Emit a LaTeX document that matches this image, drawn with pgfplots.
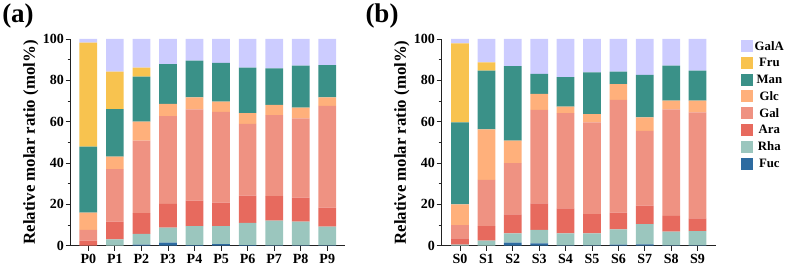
\documentclass[border=0pt]{standalone}
\usepackage{pgfplots}
\pgfplotsset{compat=1.18}
\usepackage{pgfplotstable}
\usepackage{fontspec}
\setmainfont{Liberation Serif}
\definecolor{cGalA}{HTML}{CCCCFF}
\definecolor{cFru}{HTML}{F8C34F}
\definecolor{cMan}{HTML}{3A9188}
\definecolor{cGlc}{HTML}{FFB07B}
\definecolor{cGal}{HTML}{EF9282}
\definecolor{cAra}{HTML}{E76A5E}
\definecolor{cRha}{HTML}{9BC6BE}
\definecolor{cFuc}{HTML}{2D6BA0}
\definecolor{axc}{HTML}{222222}

\pgfplotstableread{
x Fuc Rha Ara Gal Glc Man Fru GalA
0 0.0 0.0 2.4 5.2 8.4 31.9 50.3 1.8
1 0.0 3.1 8.5 25.4 6.1 23.0 18.1 15.8
2 0.5 5.2 10.0 35.1 9.2 21.8 4.3 13.9
3 1.5 7.2 11.5 42.5 5.9 19.3 0.0 12.1
4 0.3 9.2 12.3 44.2 5.8 17.7 0.0 10.5
5 0.8 8.7 11.3 44.0 4.9 18.8 0.0 11.5
6 0.3 10.8 13.1 34.7 5.2 22.0 0.0 13.9
7 0.2 11.9 11.9 39.2 4.9 17.7 0.0 14.2
8 0.2 11.4 11.6 38.4 5.2 20.3 0.0 12.9
9 0.2 9.0 9.2 49.3 4.1 15.6 0.0 12.6
}\tableA

\pgfplotstableread{
x Fuc Rha Ara Gal Glc Man Fru GalA
0 0.0 0.5 3.1 6.4 10.0 39.7 38.2 2.1
1 0.0 2.4 7.1 22.3 24.5 28.4 4.0 11.3
2 1.5 4.5 9.2 24.7 10.9 36.1 0.0 13.1
3 1.1 6.5 12.9 45.2 7.7 9.7 0.0 16.9
4 0.2 5.8 12.1 46.0 3.2 14.2 0.0 18.5
5 0.2 5.8 9.3 44.4 3.9 20.3 0.0 16.1
6 0.5 7.4 8.1 54.5 7.7 6.0 0.0 15.8
7 0.7 9.7 9.0 36.2 6.5 20.5 0.0 17.4
8 0.2 6.6 7.6 51.6 4.2 16.9 0.0 12.9
9 0.2 6.9 6.1 51.3 5.7 14.5 0.0 15.3
}\tableB

\pgfplotsset{
  common/.style={
    scale only axis,
    width=274pt, height=206.7pt,
    ybar stacked, bar width=17.7pt,
    ymin=0, ymax=100,
    ytick={0,20,...,100},
    minor ytick={10,30,...,90},
    xtick={0,...,9},
    axis lines*=left,
    axis line style={axc, line width=1.1pt},
    tick style={axc, line width=0.9pt},
    major tick length=5pt,
    minor tick length=3pt,
    tick align=outside,
    /pgf/number format/assume math mode=true,
    ticklabel style={font=\bfseries\fontsize{14}{15}\selectfont, text=black},
    yticklabel style={inner xsep=1.5pt},
    ylabel style={font=\bfseries\fontsize{16.8}{17}\selectfont, at={(axis description cs:-0.145,0.5)}, anchor=center},
    ylabel={Relative molar ratio (mol\%)},
    every axis plot/.append style={draw=none},
    clip=false,
  },
}

\begin{document}
\begin{tikzpicture}
\path[use as bounding box] (0pt,0pt) rectangle (789pt,267pt);
\node[font=\bfseries\fontsize{27}{28}\selectfont, inner sep=0pt] at (18pt,251pt) {(a)};
\node[font=\bfseries\fontsize{27}{28}\selectfont, inner sep=0pt] at (382pt,251pt) {(b)};

\begin{axis}[common, at={(88.3pt,21.3pt)}, anchor=origin,
  xmin=-0.67, xmax=9.65,
  xticklabels={P0,P1,P2,P3,P4,P5,P6,P7,P8,P9}]
\addplot[fill=cFuc] table[x=x,y=Fuc] {\tableA};
\addplot[fill=cRha] table[x=x,y=Rha] {\tableA};
\addplot[fill=cAra] table[x=x,y=Ara] {\tableA};
\addplot[fill=cGal] table[x=x,y=Gal] {\tableA};
\addplot[fill=cGlc] table[x=x,y=Glc] {\tableA};
\addplot[fill=cMan] table[x=x,y=Man] {\tableA};
\addplot[fill=cFru] table[x=x,y=Fru] {\tableA};
\addplot[fill=cGalA] table[x=x,y=GalA] {\tableA};
\end{axis}

\begin{axis}[common, at={(460pt,21.3pt)}, anchor=origin,
  xmin=-0.7, xmax=9.68,
  xticklabels={S0,S1,S2,S3,S4,S5,S6,S7,S8,S9},
  legend style={at={(1,1)}, xshift=22pt, yshift=2pt, anchor=north west, draw=none, fill=none,
    font=\bfseries\fontsize{12.8}{13}\selectfont, row sep=2.6pt,
    /tikz/every even column/.append style={column sep=2pt}},
  reverse legend,
  legend image code/.code={\fill[#1] (0pt,-6pt) rectangle (12pt,6pt);}]
\addplot[fill=cFuc] table[x=x,y=Fuc] {\tableB};
\addplot[fill=cRha] table[x=x,y=Rha] {\tableB};
\addplot[fill=cAra] table[x=x,y=Ara] {\tableB};
\addplot[fill=cGal] table[x=x,y=Gal] {\tableB};
\addplot[fill=cGlc] table[x=x,y=Glc] {\tableB};
\addplot[fill=cMan] table[x=x,y=Man] {\tableB};
\addplot[fill=cFru] table[x=x,y=Fru] {\tableB};
\addplot[fill=cGalA] table[x=x,y=GalA] {\tableB};
\legend{Fuc,Rha,Ara,Gal,Glc,Man,Fru,GalA}
\end{axis}
\end{tikzpicture}
\end{document}
